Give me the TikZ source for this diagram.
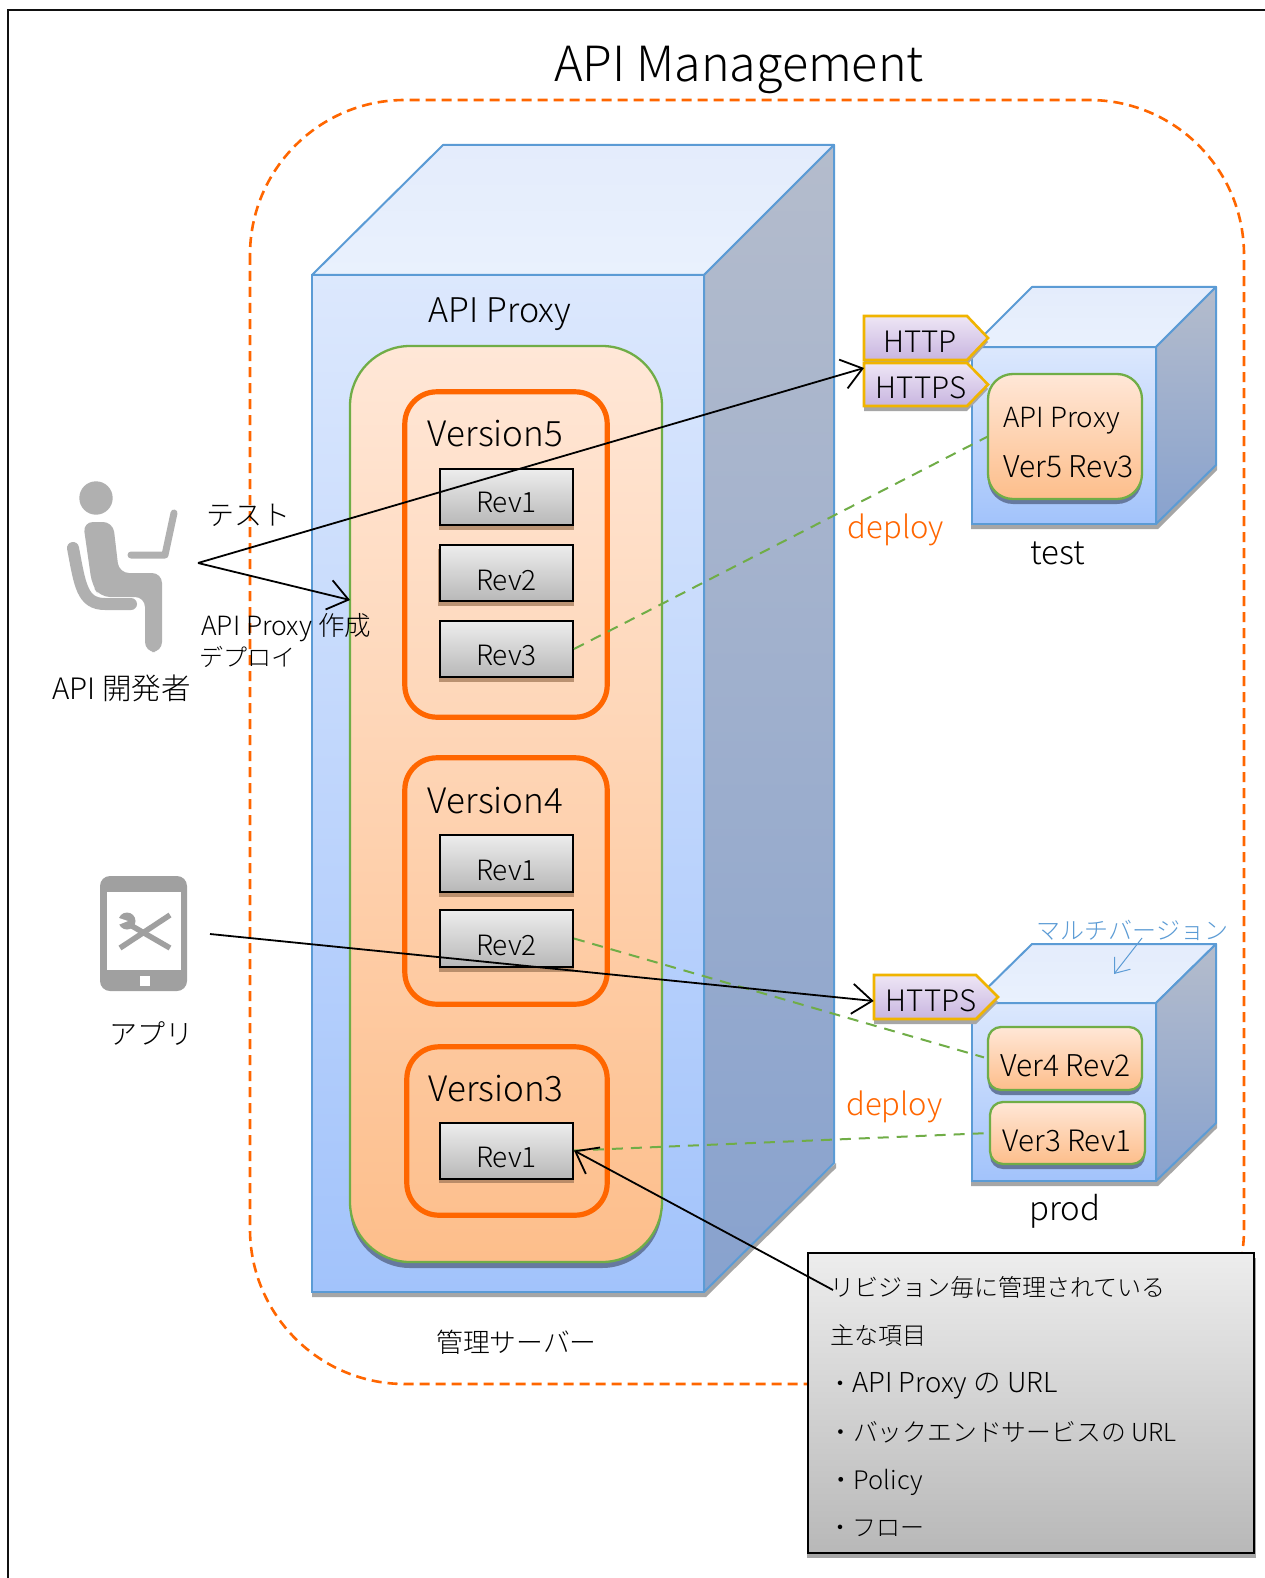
\documentclass[tikz,border=0pt]{standalone}
\usepackage{fontspec}
\setmainfont{Noto Sans CJK JP Light}
\usetikzlibrary{arrows.meta}
\definecolor{frameblk}{HTML}{111111}
\definecolor{edgeblue}{HTML}{5B9BD5}
\definecolor{topa}{HTML}{E4ECFC}\definecolor{topb}{HTML}{E9F1FD}
\definecolor{fronta}{HTML}{DCE8FD}\definecolor{frontb}{HTML}{A2C3FB}
\definecolor{sidea}{HTML}{B4BCCC}\definecolor{sideb}{HTML}{88A2CE}
\definecolor{shadowgray}{HTML}{A6A6A6}
\definecolor{innershadow}{HTML}{66799F}
\definecolor{edgegreen}{HTML}{70AD47}
\definecolor{peacha}{HTML}{FFE7D7}\definecolor{peachb}{HTML}{FDBE8B}
\definecolor{vorange}{HTML}{FF6600}
\definecolor{greya}{HTML}{EDEDED}\definecolor{greyb}{HTML}{B8B8B8}
\definecolor{tagedge}{HTML}{F0B400}
\definecolor{taga}{HTML}{EEE6F5}\definecolor{tagb}{HTML}{C8B5E0}
\definecolor{icongray}{HTML}{B0B0B0}
\definecolor{phonegray}{HTML}{A0A0A0}
\newcommand{\revtext}[2]{\raisebox{-#1pt}[0pt][0pt]{#2}}
\tikzset{
  fs/.style={font=\fontsize{#1}{#1}\selectfont},
  txt/.style={inner sep=0pt,text=black},
  topface/.style={draw=edgeblue,line width=2pt,line join=round,top color=topa,bottom color=topb},
  sideface/.style={draw=edgeblue,line width=2pt,line join=round,top color=sidea,bottom color=sideb},
  frontface/.style={draw=edgeblue,line width=2.2pt,top color=fronta,bottom color=frontb,inner sep=0pt,outer sep=0pt},
  shadowfill/.style={fill=shadowgray,draw=none},
  peach/.style={draw=edgegreen,line width=2.3pt,rounded corners=#1,top color=peacha,bottom color=peachb},
  peachshadow/.style={fill=innershadow,draw=none,rounded corners=#1},
  verbox/.style={draw=vorange,line width=5.2pt,rounded corners=32pt,fill=none},
  revbox/.style={draw=black,line width=2pt,top color=greya,bottom color=greyb,inner sep=0pt,minimum width=133pt,minimum height=56pt,fs=28},
  revshadow/.style={fill=black!35!peachb,opacity=.75,draw=none},
  tagshape/.style={draw=tagedge,line width=2.6pt,line join=miter,top color=taga,bottom color=tagb},
  taglabel/.style={inner sep=0pt,minimum height=44pt,fs=29.5},
  blackarrow/.style={draw=black,line width=1.8pt,-{Straight Barb[length=20pt,width=30pt,line width=1.8pt]}},
  deploydash/.style={draw=edgegreen,line width=2pt,dash pattern=on 11pt off 8pt},
}
\begin{document}
\begin{tikzpicture}[x=1pt,y=-1pt]
\useasboundingbox (0,0) rectangle (1265,1578);
\fill[white] (0,0) rectangle (1265,1578);
% frame: only the top and left edges are inside the picture
\draw[frameblk,line width=1.8pt] (8,1578) -- (8,10) -- (1265,10);
% dashed boundary
\draw[vorange,line width=2.6pt,dash pattern=on 10pt off 6pt,rounded corners=155pt] (250,100) rectangle (1244,1384);
\node[txt,fs=48.5] (title) at (739,70) {API Management};

% ---- server cube
\fill[shadowfill] (312,1280) -- (706,1280) -- (836,1163) -- (836,1168) -- (706,1297) -- (312,1297) -- cycle;
\node[frontface,minimum width=392pt,minimum height=1017pt] (server) at (508,783.5) {};
\draw[topface] (312,275) -- (443,145) -- (834,145) -- (704,275) -- cycle;
\draw[sideface] (704,275) -- (834,145) -- (834,1163) -- (704,1292) -- cycle;
\node[txt,fs=34] (serverlabel) at (500,314) {API Proxy};
\node[txt,fs=26.8] (serveradmin) at (516.5,1342) {管理サーバー};

\fill[peachshadow=60pt] (350,352) rectangle (662,1268);
\draw[peach=60pt] (350,346) rectangle (662,1262);

% ---- version 5
\node[draw=none,inner sep=0pt,minimum width=202pt,minimum height=325pt] (v5) at (506,554.5) {};
\draw[verbox] (v5.north west) rectangle (v5.south east);
\node[txt,fs=35] (v5t) at (495.5,434) {Version5};
\fill[revshadow] (439,473) rectangle (574,530);
\fill[revshadow] (438,549) rectangle (574,606);
\fill[revshadow] (439,625) rectangle (574,682);
\node[revbox] (v5r1) at (506.5,497) {\revtext{15}{Rev1}};
\node[revbox] (v5r2) at (506.5,573) {\revtext{17}{Rev2}};
\node[revbox] (v5r3) at (506.5,649) {\revtext{16}{Rev3}};

% ---- version 4
\node[draw=none,inner sep=0pt,minimum width=202pt,minimum height=246pt] (v4) at (506,881) {};
\draw[verbox] (v4.north west) rectangle (v4.south east);
\node[txt,fs=35] (v4t) at (495.5,801) {Version4};
\fill[revshadow] (439,838) rectangle (574,897);
\fill[revshadow] (439,914) rectangle (574,972);
\node[revbox,minimum height=57pt] (v4r1) at (506.5,863) {\revtext{17}{Rev1}};
\node[revbox,minimum height=57pt] (v4r2) at (506.5,938.5) {\revtext{16.5}{Rev2}};

% ---- version 3
\node[draw=none,inner sep=0pt,minimum width=200pt,minimum height=168pt] (v3) at (507,1131) {};
\draw[verbox] (v3.north west) rectangle (v3.south east);
\node[txt,fs=35] (v3t) at (496,1089) {Version3};
\fill[revshadow] (439,1127) rectangle (574,1183);
\node[revbox] (v3r1) at (506.5,1150.5) {\revtext{16.5}{Rev1}};

% ---- test cube
\fill[shadowfill] (971,510) -- (1158,510) -- (1217,465) -- (1217,470) -- (1158,529) -- (971,529) -- cycle;
\node[frontface,minimum width=184pt,minimum height=177pt] (testbox) at (1064,435.5) {};
\draw[topface] (972,347) -- (1032,287) -- (1216,287) -- (1156,347) -- cycle;
\draw[sideface] (1156,347) -- (1216,287) -- (1216,465) -- (1156,524) -- cycle;
\fill[peachshadow=25pt] (988,379) rectangle (1142,504);
\draw[peach=25pt] (988,374) rectangle (1142,499);
\node[draw=none,inner sep=0pt,minimum width=154pt,minimum height=125pt] (testproxy) at (1065,436.5) {};
\node[txt,fs=27.8,anchor=west] (tp1) at (1003,421) {API Proxy};
\node[txt,fs=30,anchor=west] (tp2) at (1003,467) {Ver5 Rev3};
\node[txt,fs=33] (testlabel) at (1058,553) {test};

% ---- prod cube
\fill[shadowfill] (971,1170) -- (1158,1170) -- (1217,1123) -- (1217,1128) -- (1158,1186) -- (971,1186) -- cycle;
\node[frontface,minimum width=184pt,minimum height=178pt] (prodbox) at (1064,1092) {};
\draw[topface] (972,1003) -- (1032,944) -- (1216,944) -- (1156,1003) -- cycle;
\draw[sideface] (1156,1003) -- (1216,944) -- (1216,1123) -- (1156,1181) -- cycle;
\fill[peachshadow=13pt] (988,1032) rectangle (1142,1095);
\draw[peach=13pt] (988,1027) rectangle (1142,1090);
\node[draw=none,inner sep=0pt,minimum width=154pt,minimum height=63pt] (prodv4) at (1065,1058.5) {};
\node[txt,fs=30] (pv4) at (1065.5,1066) {Ver4 Rev2};
\fill[peachshadow=13pt] (990,1107) rectangle (1145,1169);
\draw[peach=13pt] (990,1102) rectangle (1145,1164);
\node[draw=none,inner sep=0pt,minimum width=155pt,minimum height=62pt] (prodv3) at (1067.5,1133) {};
\node[txt,fs=29.5] (pv3) at (1067,1141) {Ver3 Rev1};
\node[txt,fs=33] (prodlabel) at (1065,1211) {prod};
\node[txt,fs=24,text=edgeblue] (multi) at (1132.5,930) {マルチバージョン};
\coordinate (multiEnd) at (1114,974);
\coordinate (multiStart) at (1142,938);
\draw[edgeblue,line width=1pt,-{Straight Barb[length=13pt,width=20pt,line width=1pt]}] (multiStart) -- (multiEnd);

% ---- protocol tags
\fill[shadowfill] (864,320) -- (967,320) -- (988,342) -- (967,365) -- (864,365) -- cycle;
\fill[shadowfill] (864,368) -- (967,368) -- (988,389) -- (967,411) -- (864,411) -- cycle;
\path[tagshape] (864,316) -- (967,316) -- (988,338) -- (967,360) -- (864,360) -- cycle;
\path[tagshape] (864,363) -- (967,363) -- (988,384.5) -- (967,406) -- (864,406) -- cycle;
\node[taglabel,minimum width=103pt] (httpTag) at (915.5,342) {\hspace{9pt}HTTP};
\node[taglabel,minimum width=103pt] (httpsTag) at (915.5,388) {\hspace{11pt}HTTPS};
\fill[shadowfill] (874,980) -- (976,980) -- (998,1002) -- (976,1024) -- (874,1024) -- cycle;
\path[tagshape] (874,975) -- (976,975) -- (998,997) -- (976,1019) -- (874,1019) -- cycle;
\node[taglabel,minimum width=102pt] (prodTag) at (925,1001) {\hspace{12pt}HTTPS};

% ---- side labels
\node[txt,fs=31,text=vorange] (deploy1) at (896,530) {deploy};
\node[txt,fs=31,text=vorange] (deploy2) at (894.5,1107) {deploy};
\node[txt,fs=28] (testja) at (248,515) {テスト};
\node[txt,fs=26.5,anchor=west] (devmake) at (201,628) {API Proxy 作成};
\node[txt,fs=24,anchor=west] (devdeploy) at (199,657) {デプロイ};
\node[txt,fs=29.5] (devlabel) at (121.5,688) {API 開発者};
\node[txt,fs=28] (applabel) at (151.5,1033) {アプリ};

% ---- developer icon
\fill[icongray] (96,498) circle (16.7);
\fill[icongray,rounded corners=10pt]
  (83,522) -- (113,522) -- (119,573) -- (162,573) -- (162,652) -- (145,652) -- (145,597) -- (100,597) -- (92,585) -- cycle;
\draw[icongray,line width=12pt,line cap=round,line join=round]
  (73,548) .. controls (80,585) and (82,604) .. (105,604) -- (131,604);
\draw[icongray,line width=7pt,line cap=round,line join=round] (131,555) -- (165,555) -- (174,513);
\coordinate (devOut) at (198,563);

% ---- phone icon
\node[draw=none,fill=phonegray,rounded corners=10pt,inner sep=0pt,minimum width=87pt,minimum height=115pt] (phone) at (143.5,933.5) {};
\fill[white] (107,892) rectangle (181,970);
\fill[white] (140,976) rectangle (150,986);
\draw[phonegray,line width=5.5pt] (120,948) -- (170,915);
\draw[phonegray,line width=5.5pt] (132,926) -- (170,948);
\fill[phonegray] (127,921) circle (8.5);
\fill[white] (116,917) -- (128,921) -- (118,925) -- cycle;
\coordinate (appOut) at (210,934);

% ---- deploy links
\draw[deploydash] (v5r3.east) -- (testproxy.west);
\draw[deploydash,shorten >=4pt] (v4r2.east) -- (prodv4.west);
\draw[deploydash] (v3r1.east) -- (prodv3.west);

% ---- callout
\fill[shadowfill] (807,1258) rectangle (1256,1558);
\node[draw=black,line width=1.8pt,top color=greya,bottom color=greyb,inner sep=0pt,minimum width=446pt,minimum height=300pt] (note) at (1031,1403) {};
\node[txt,fs=24,anchor=west] (n1) at (830,1287) {リビジョン毎に管理されている};
\node[txt,fs=24,anchor=west] (n2) at (830,1335) {主な項目};
\node[txt,fs=24,anchor=west] (n3) at (828,1386) {・{\fontsize{27.5}{27.5}\selectfont API Proxy の URL}};
\node[txt,fs=24.8,anchor=west] (n4) at (828,1432) {・バックエンドサービスの URL};
\node[txt,fs=25.5,anchor=west] (n5) at (828,1482) {・Policy};
\node[txt,fs=24,anchor=west] (n6) at (828,1528) {・フロー};
\coordinate (noteOut) at (833,1290);

% ---- black arrows
\coordinate (httpsEnd) at (864,368);
\coordinate (proxyEnd) at (350,600);
\draw[blackarrow] (devOut) -- (httpsEnd);
\draw[blackarrow] (devOut) -- (proxyEnd);
\draw[blackarrow] (appOut) -- (prodTag.west);
\draw[blackarrow] (noteOut) -- (v3r1.east);
\end{tikzpicture}
\end{document}
